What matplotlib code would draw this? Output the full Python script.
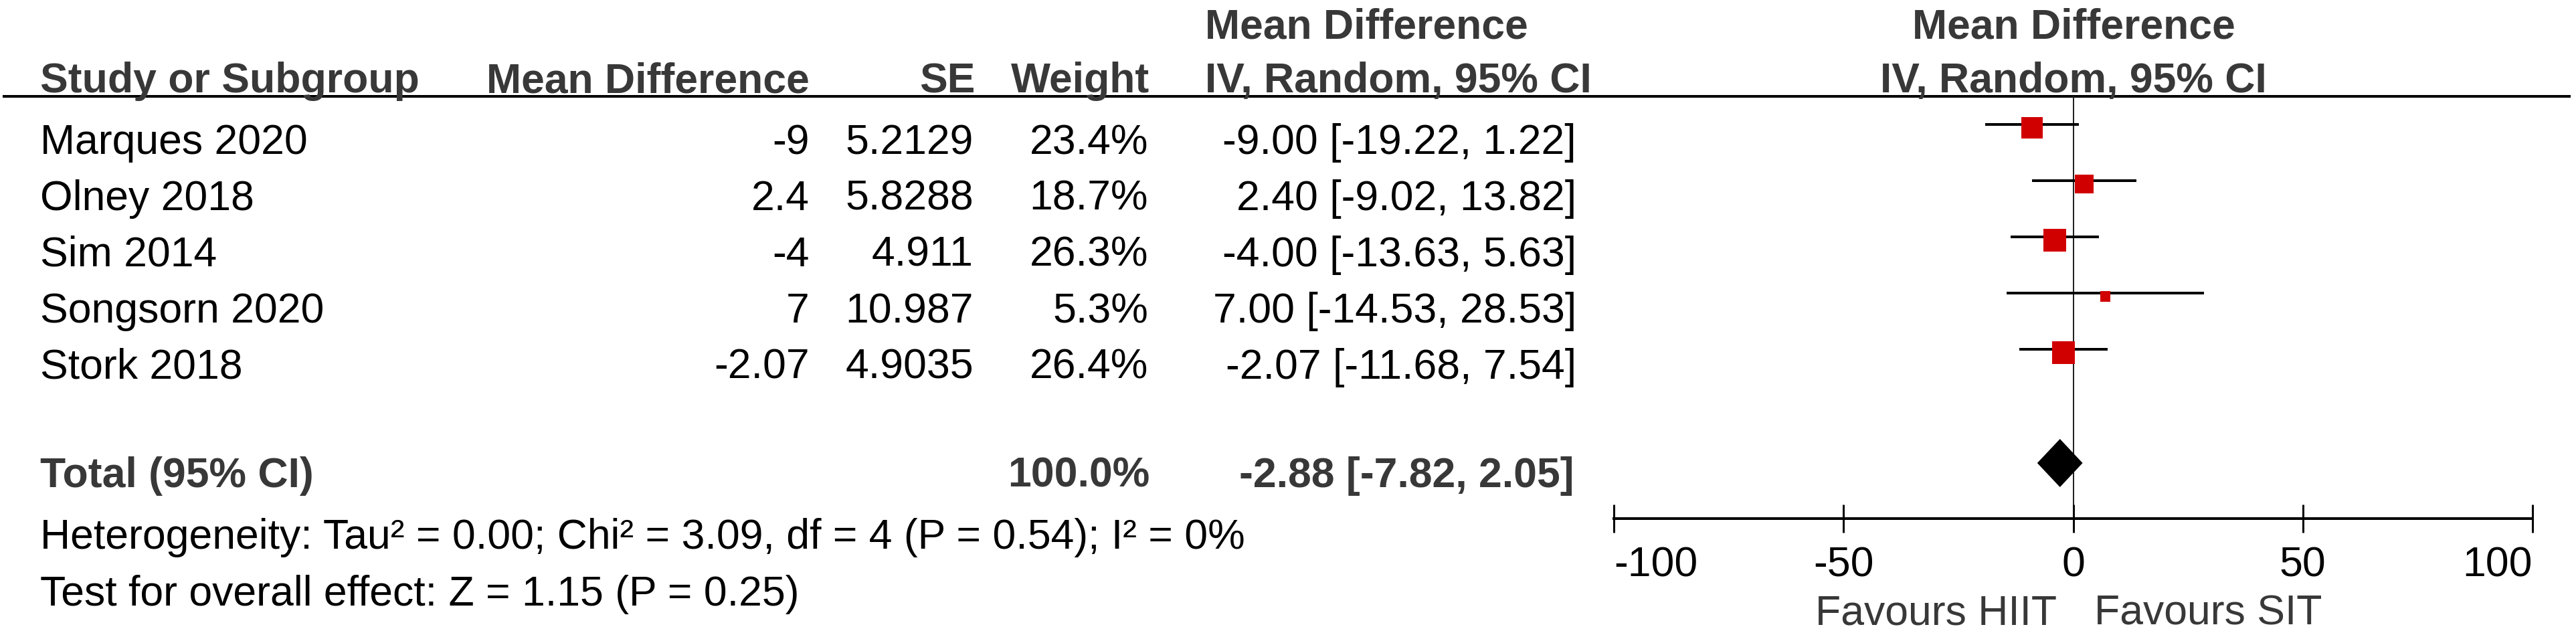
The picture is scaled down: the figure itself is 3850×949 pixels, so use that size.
import numpy as np
import matplotlib
matplotlib.use("Agg")
import matplotlib.pyplot as plt

plt.rcParams['font.family'] = ['Liberation Sans', 'DejaVu Sans']

# data
studies = ["Marques 2020", "Olney 2018", "Sim 2014", "Songsorn 2020", "Stork 2018"]
mean_diff = [-9, 2.4, -4, 7, -2.07]
se = [5.2129, 5.8288, 4.911, 10.987, 4.9035]
weight = [23.4, 18.7, 26.3, 5.3, 26.4]
ci_low = [-19.22, -9.02, -13.63, -14.53, -11.68]
ci_high = [1.22, 13.82, 5.63, 28.53, 7.54]
total_md = -2.88
total_low = -7.82
total_high = 2.05
total_weight = 100.0
heterogeneity = "Heterogeneity: Tau² = 0.00; Chi² = 3.09, df = 4 (P = 0.54); I² = 0%"
overall = "Test for overall effect: Z = 1.15 (P = 0.25)"
xticks = [-100, -50, 0, 50, 100]
favours = ["Favours HIIT", "Favours SIT"]

W, H = 3850, 949
DPI = 100
PT = 72 / DPI  # points per pixel
FS = 62.5 * PT
HEAD = '#383838'
RED = '#d10000'

fig = plt.figure(figsize=(W / DPI, H / DPI), dpi=DPI)

# table layer in pixel coordinates
tab = fig.add_axes([0, 0, 1, 1])
tab.set_xlim(0, W)
tab.set_ylim(H, 0)
tab.axis('off')

# forest layer: x in mean difference units, y in pixels
fx0, fx1 = 2412, 3785
fax = fig.add_axes([fx0 / W, 0, (fx1 - fx0) / W, 1])
fax.set_xlim(-100, 100)
fax.set_ylim(H, 0)
fax.patch.set_visible(False)

row0, step = 186, 84
rows = [row0 + step * i for i in range(len(studies))]
base_off = 44

# headers
def head(x, y, s, ha):
    tab.text(x, y, s, ha=ha, va='baseline', fontsize=FS, fontweight='bold', color=HEAD)

head(60, 138, "Study or Subgroup", 'left')
head(1210, 138, "Mean Difference", 'right')
head(1458, 138, "SE", 'right')
head(1718, 138, "Weight", 'right')
head(1801, 57, "Mean Difference", 'left')
head(1801, 138, "IV, Random, 95% CI", 'left')
head(3099, 57, "Mean Difference", 'center')
head(3099, 138, "IV, Random, 95% CI", 'center')
tab.hlines(144, 4, 3842, color='black', lw=4 * PT)

# study rows
for i, name in enumerate(studies):
    yb = rows[i] + base_off
    kw = dict(va='baseline', fontsize=FS, color='black')
    tab.text(60, yb, name, ha='left', **kw)
    tab.text(1210, yb, f"{mean_diff[i]:g}", ha='right', **kw)
    tab.text(1455, yb, f"{se[i]:g}", ha='right', **kw)
    tab.text(1716, yb, f"{weight[i]:.1f}%", ha='right', **kw)
    tab.text(2356, yb, f"{mean_diff[i]:.2f} [{ci_low[i]:.2f}, {ci_high[i]:.2f}]", ha='right', **kw)

# total row
ty = 692
tb = 728
kwb = dict(va='baseline', fontsize=FS, fontweight='bold', color=HEAD)
tab.text(60, tb, "Total (95% CI)", ha='left', **kwb)
tab.text(1718, tb, f"{total_weight:.1f}%", ha='right', **kwb)
tab.text(2352, tb, f"{total_md:.2f} [{total_low:.2f}, {total_high:.2f}]", ha='right', **kwb)
tab.text(60, 820, heterogeneity, ha='left', va='baseline', fontsize=FS, color='black')
tab.text(60, 905, overall, ha='left', va='baseline', fontsize=FS, color='black')

# forest marks
fax.vlines(0, 144, 775, color='#222222', lw=2 * PT, zorder=1)
fax.hlines(rows, ci_low, ci_high, color='black', lw=4 * PT, zorder=2)
sides = 6.6 * np.sqrt(weight) * PT
fax.scatter(mean_diff, np.array(rows) + 5, marker='s', s=sides ** 2, color=RED,
            linewidths=0, zorder=3)
dh = 36
fax.fill([total_low, total_md, total_high, total_md], [ty, ty - dh, ty, ty + dh],
         color='black', lw=0, zorder=3)

# x axis of the forest
for s in ['top', 'left', 'right']:
    fax.spines[s].set_visible(False)
fax.spines['bottom'].set_position(('data', 775))
fax.spines['bottom'].set_bounds(-100, 100)
fax.spines['bottom'].set_linewidth(4 * PT)
fax.set_yticks([])
fax.set_xticks(xticks)
fax.set_xticklabels([str(t) for t in xticks])
fax.tick_params(axis='x', direction='inout', length=42 * PT, width=3 * PT,
                labelsize=FS, pad=14, colors='black')
labels = fax.get_xticklabels()
labels[0].set_ha('left')
labels[-1].set_ha('right')

tab.text(3074, 933, favours[0], ha='right', va='baseline', fontsize=FS, color=HEAD)
tab.text(3130, 933, favours[1], ha='left', va='baseline', fontsize=FS, color=HEAD)

fig.savefig("out.png", dpi=DPI)
